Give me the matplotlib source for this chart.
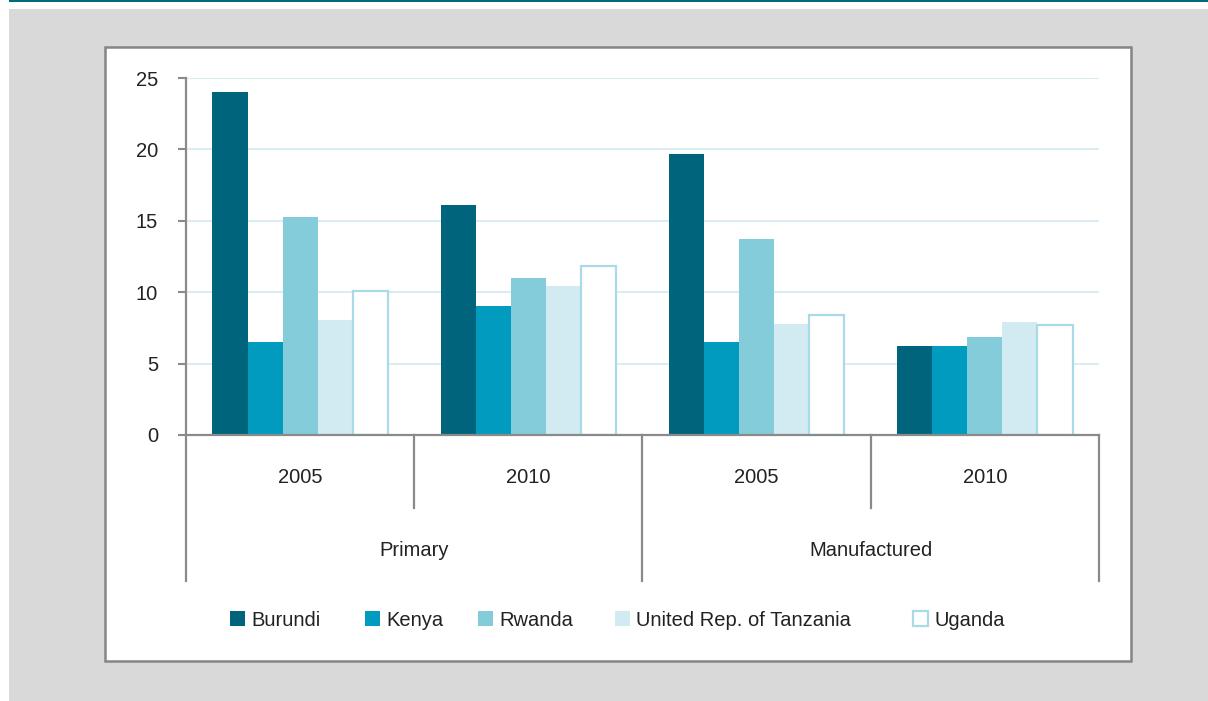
import numpy as np
import matplotlib
matplotlib.use("Agg")
import matplotlib.pyplot as plt
from matplotlib.patches import Rectangle
from matplotlib.lines import Line2D

plt.rcParams['font.family'] = ['Liberation Sans', 'DejaVu Sans']

# data
categories = ['Primary', 'Manufactured']
years = ['2005', '2010', '2005', '2010']
countries = ['Burundi', 'Kenya', 'Rwanda', 'United Rep. of Tanzania', 'Uganda']
burundi = [24.0, 16.1, 19.7, 6.2]
kenya = [6.5, 9.0, 6.5, 6.2]
rwanda = [15.3, 11.0, 13.7, 6.85]
tanzania = [8.05, 10.45, 7.75, 7.9]
uganda = [10.1, 11.85, 8.4, 7.7]
series = [burundi, kenya, rwanda, tanzania, uganda]

fills = ['#00657c', '#009bbf', '#84ccd9', '#d2eaf1', 'white']
edges = ['none', 'none', 'none', 'none', '#a8dbe6']
FS = 14.5
TXT = '#222222'

W, H = 1208, 701
fig = plt.figure(figsize=(W / 100, H / 100), dpi=100)

# background frame
bg = fig.add_axes([0, 0, 1, 1])
bg.set_xlim(0, W)
bg.set_ylim(H, 0)
bg.axis('off')
bg.add_patch(Rectangle((9, 9), W, H, facecolor='#d9d9d9', edgecolor='none'))
bg.add_patch(Rectangle((9, -1), W, 3, facecolor='#006a7c', edgecolor='none'))
bg.add_patch(Rectangle((105, 47), 1026, 614, facecolor='white', edgecolor='#858585', lw=1.8))

ax = fig.add_axes([186 / W, 1 - 435 / H, (1099 - 186) / W, (435 - 78) / H])
ax.set_facecolor('none')

x = np.arange(len(years))
bw = 0.1536
for i, vals in enumerate(series):
    ax.bar(x + (i - 2) * bw, vals, bw, color=fills[i], edgecolor=edges[i],
           linewidth=1.6 if i == 4 else 0, label=countries[i], zorder=3)

ax.set_xlim(-0.5, 3.5)
ax.set_ylim(0, 25)
ax.set_yticks([0, 5, 10, 15, 20, 25])
ax.yaxis.grid(True, color='#d8eef3', lw=1.4, zorder=0)
ax.set_axisbelow(True)
ax.set_xticks([])
for s in ['top', 'right']:
    ax.spines[s].set_visible(False)
for s in ['left', 'bottom']:
    ax.spines[s].set_color('#8a8a8a')
    ax.spines[s].set_linewidth(1.6)
    ax.spines[s].set_zorder(4)
ax.tick_params(axis='y', length=6, width=1.5, color='#8a8a8a', pad=14,
               labelsize=FS, labelcolor=TXT)

# multi-level category axis
trans = ax.get_xaxis_transform()
for b in [-0.5, 1.5, 3.5]:
    ax.add_line(Line2D([b, b], [0, -0.409], transform=trans, color='#8a8a8a',
                       lw=1.6, clip_on=False))
for b in [0.5, 2.5]:
    ax.add_line(Line2D([b, b], [0, -0.2045], transform=trans, color='#8a8a8a',
                       lw=1.6, clip_on=False))
for xi, yr in zip(x, years):
    ax.text(xi, -0.118, yr, transform=trans, ha='center', va='center',
            fontsize=FS, color=TXT)
for j, cat in enumerate(categories):
    ax.text(2 * j + 0.5, -0.323, cat, transform=trans, ha='center', va='center',
            fontsize=FS, color=TXT)

# legend, one entry at a time
handles, labels = ax.get_legend_handles_labels()
leg_x = [230, 365, 478, 615, 913]
for h, lab, lx in zip(handles, labels, leg_x):
    leg = fig.legend([h], [lab], loc='center left',
                     bbox_to_anchor=(lx / W, 1 - 620 / H), frameon=False,
                     fontsize=FS, handlelength=0.75, handleheight=0.75,
                     handletextpad=0.3, borderpad=0, borderaxespad=0)
    for t in leg.get_texts():
        t.set_color(TXT)

fig.savefig('out.png', dpi=100)
